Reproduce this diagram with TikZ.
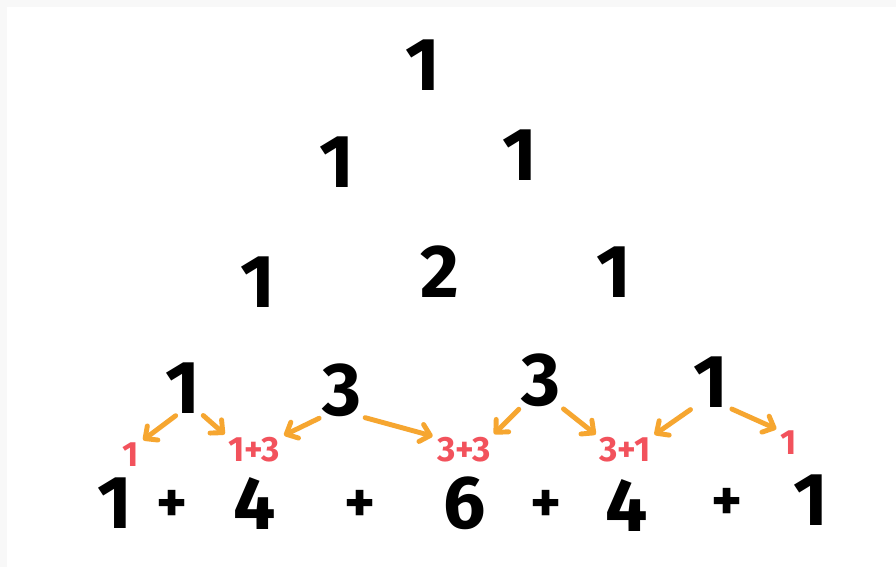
\documentclass[tikz,border=0pt]{standalone}
\usepackage{fontspec}
\setmainfont{Fira Sans}
\usetikzlibrary{arrows.meta}
\definecolor{pgray}{HTML}{F8F8F8}
\definecolor{porange}{HTML}{F6A630}
\definecolor{pred}{HTML}{F2525C}
\begin{document}
\begin{tikzpicture}[x=0.03cm,y=-0.03cm,
	num/.style={font=\fontsize{64}{64}\selectfont\bfseries, inner sep=0pt},
	sum/.style={font=\fontsize{30}{30}\selectfont\bfseries, text=pred, inner sep=0pt},
	plus/.style={font=\fontsize{50}{50}\selectfont\bfseries, inner sep=0pt},
	arr/.style={draw=porange, line width=4.2pt, line cap=round, shorten <=3pt, shorten >=4pt,
		-{Straight Barb[length=8pt,width=15pt,round]}}]
	% Background
	\useasboundingbox (0,0) rectangle (896,567);
	\fill[pgray] (0,0) rectangle (896,567);
	\fill[white] (7,7) rectangle (896,567);

	% Rows of the triangle
	\node[num] (t0a) at (423,65) {1};
	\node[num] (t1a) at (337,162) {1};
	\node[num] (t1b) at (520,155) {1};
	\node[num] (t2a) at (258,282) {1};
	\node[num] (t2b) at (440,272) {2};
	\node[num] (t2c) at (614,272) {1};
	\node[num] (t3a) at (183,388) {1};
	\node[num] (t3b) at (342,390) {3};
	\node[num] (t3c) at (541,380) {3};
	\node[num] (t3d) at (711,382) {1};

	% Sums
	\node[sum] (s1) at (131,455) {1};
	\node[sum] (s2) at (254,450) {1+3};
	\node[sum] (s3) at (464,450) {3+3};
	\node[sum] (s4) at (625,450) {3+1};
	\node[sum] (s5) at (789,443) {1};

	% Bottom row
	\node[num] (b1) at (115,503) {1};
	\node[plus] (p1) at (172,506) {+};
	\node[num] (b2) at (255,504) {4};
	\node[plus] (p2) at (360,506) {+};
	\node[num] (b3) at (465,503) {6};
	\node[plus] (p3) at (546,506) {+};
	\node[num] (b4) at (627,506) {4};
	\node[plus] (p4) at (727,504) {+};
	\node[num] (b5) at (811,500) {1};

	% Arrows
	\draw[arr] (t3a.-100) -- (s1.north east);
	\draw[arr] (t3a.-55) -- (s2.north west);
	\draw[arr] (t3b.south west) -- (s2.north east);
	\draw[arr] (t3b.south east) -- (s3.north west);
	\draw[arr] (t3c.south west) -- (s3.north east);
	\draw[arr] (t3c.south east) -- (s4.north west);
	\draw[arr] (t3d.south west) -- (s4.north east);
	\draw[arr] (t3d.south east) -- (s5.north west);
\end{tikzpicture}
\end{document}
